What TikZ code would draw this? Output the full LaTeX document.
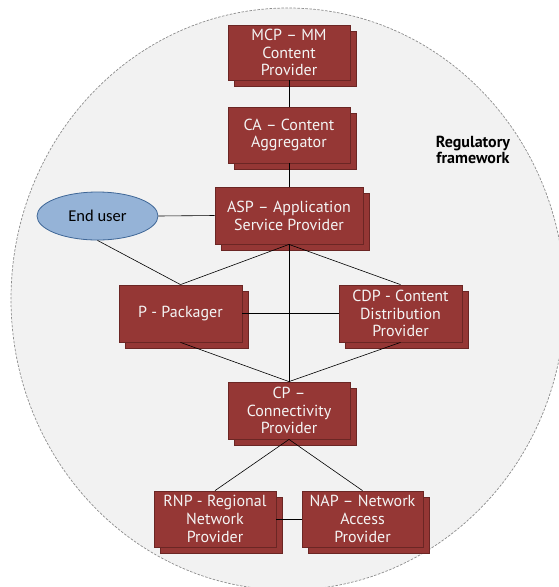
\documentclass[tikz,border=0pt]{standalone}
\usepackage{fontspec}
\setmainfont{PT Sans}
\newfontfamily\userfont{Carlito}
\usetikzlibrary{shadows,shapes.geometric}
\definecolor{boxred}{HTML}{953735}
\definecolor{boxedge}{HTML}{6B2624}
\definecolor{regfill}{HTML}{F2F2F2}
\definecolor{regedge}{HTML}{8C8C8C}
\definecolor{userfill}{HTML}{95B3D7}
\definecolor{useredge}{HTML}{3F6797}
\definecolor{boxtext}{HTML}{F4F4F4}
\begin{document}
\begin{tikzpicture}[x=1pt,y=-1pt,
  rolebox/.style={draw=boxedge, fill=boxred, text=boxtext, align=center, inner sep=0pt,
    line width=0.8pt, font=\fontsize{16}{17.8}\selectfont,
    copy shadow={shadow xshift=6pt, shadow yshift=-6pt, fill=boxred, draw=boxedge}},
  link/.style={draw=black, line width=0.6pt}]
\useasboundingbox (0,0) rectangle (559,587);
\clip (0,0) rectangle (559,587);
\fill[white] (0,0) rectangle (559,587);
\draw[fill=regfill, draw=regedge, line width=0.7pt, dash pattern=on 2.5pt off 1.5pt]
  (288,299) ellipse [x radius=277, y radius=291];
\node[font=\bfseries\fontsize{16}{16.5}\selectfont, align=center] (reg) at (473,150) {Regulatory\\framework};
\node[rolebox, minimum width=122pt, minimum height=55pt] (mcp) at (289,52.5) {MCP – MM\\Content\\Provider};
\node[rolebox, minimum width=122pt, minimum height=56pt] (ca) at (289,135) {CA – Content\\Aggregator};
\node[rolebox, minimum width=148pt, minimum height=57pt] (asp) at (289,215.5) {ASP – Application\\Service Provider};
\node[ellipse, draw=useredge, fill=userfill, line width=0.8pt, minimum width=121pt, minimum height=48pt, inner sep=0pt, font=\userfont\fontsize{16.5}{18}\selectfont] (user) at (97.5,216) {End user};
\node[rolebox, minimum width=123pt, minimum height=57pt] (p) at (180.5,313.5) {P - Packager};
\node[rolebox, minimum width=123pt, minimum height=57pt] (cdp) at (400.5,313.5) {CDP - Content\\Distribution\\Provider};
\node[rolebox, minimum width=122pt, minimum height=57pt] (cp) at (289,410.5) {CP –\\Connectivity\\Provider};
\node[rolebox, minimum width=122pt, minimum height=56pt] (rnp) at (215,519) {RNP - Regional\\Network\\Provider};
\node[rolebox, minimum width=121pt, minimum height=56pt] (nap) at (362.5,519) {NAP – Network\\Access\\Provider};
\draw[link] (mcp.south) -- (ca.north);
\draw[link] (ca.south) -- (asp.north);
\draw[link] (user.east) -- (asp.west);
\draw[link] (user.south) -- (p.north);
\draw[link] (asp.south) -- (p.north);
\draw[link] (asp.south) -- (cdp.north);
\draw[link] (asp.south) -- (cp.north);
\draw[link] (p.east) -- (cdp.west);
\draw[link] (p.south) -- (cp.north);
\draw[link] (cdp.south) -- (cp.north);
\draw[link] (cp.south) -- (rnp.north);
\draw[link] (cp.south) -- (nap.north);
\draw[link] (rnp.east) -- (nap.west);
\end{tikzpicture}
\end{document}
